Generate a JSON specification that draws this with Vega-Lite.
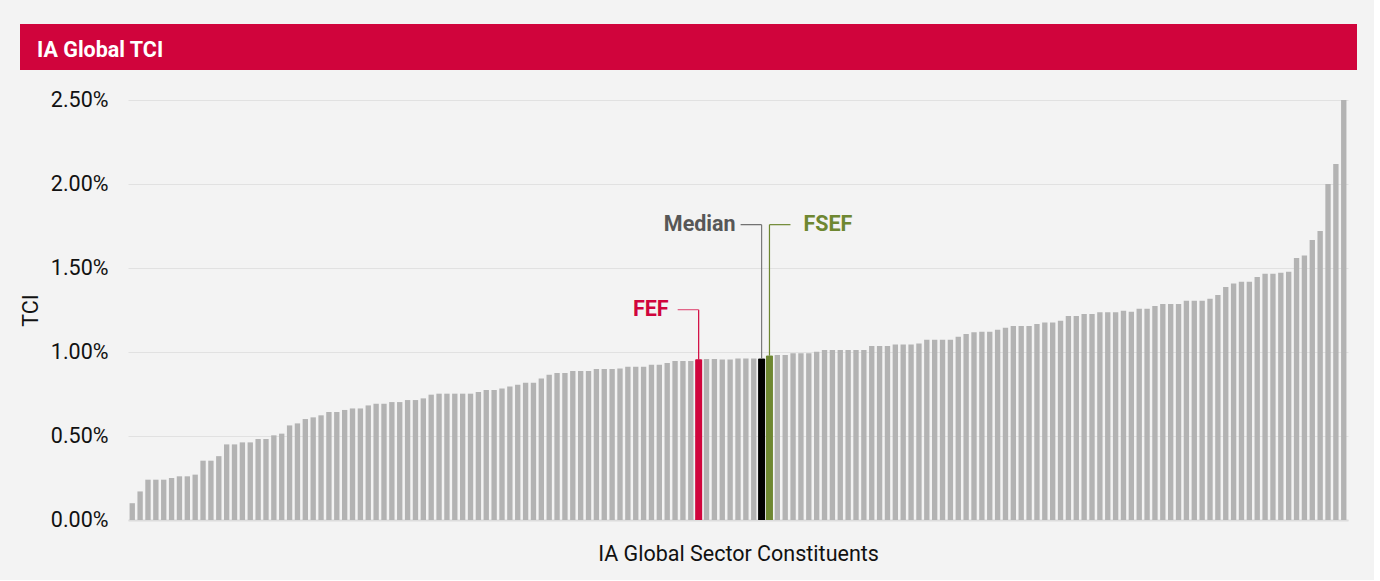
{
  "$schema": "https://vega.github.io/schema/vega-lite/v6.json",
  "background": "#f3f3f3",
  "padding": {"left": 20, "top": 24, "right": 17, "bottom": 15},
  "spacing": 19,
  "datasets": {
    "tci": [
      {"i":1,"tci":0.00100,"fund":"Other"},{"i":2,"tci":0.00170,"fund":"Other"},{"i":3,"tci":0.00240,"fund":"Other"},{"i":4,"tci":0.00240,"fund":"Other"},{"i":5,"tci":0.00240,"fund":"Other"},
      {"i":6,"tci":0.00250,"fund":"Other"},{"i":7,"tci":0.00260,"fund":"Other"},{"i":8,"tci":0.00260,"fund":"Other"},{"i":9,"tci":0.00270,"fund":"Other"},{"i":10,"tci":0.00353,"fund":"Other"},
      {"i":11,"tci":0.00353,"fund":"Other"},{"i":12,"tci":0.00380,"fund":"Other"},{"i":13,"tci":0.00450,"fund":"Other"},{"i":14,"tci":0.00450,"fund":"Other"},{"i":15,"tci":0.00462,"fund":"Other"},
      {"i":16,"tci":0.00462,"fund":"Other"},{"i":17,"tci":0.00482,"fund":"Other"},{"i":18,"tci":0.00482,"fund":"Other"},{"i":19,"tci":0.00504,"fund":"Other"},{"i":20,"tci":0.00514,"fund":"Other"},
      {"i":21,"tci":0.00563,"fund":"Other"},{"i":22,"tci":0.00575,"fund":"Other"},{"i":23,"tci":0.00601,"fund":"Other"},{"i":24,"tci":0.00611,"fund":"Other"},{"i":25,"tci":0.00623,"fund":"Other"},
      {"i":26,"tci":0.00643,"fund":"Other"},{"i":27,"tci":0.00643,"fund":"Other"},{"i":28,"tci":0.00655,"fund":"Other"},{"i":29,"tci":0.00664,"fund":"Other"},{"i":30,"tci":0.00664,"fund":"Other"},
      {"i":31,"tci":0.00682,"fund":"Other"},{"i":32,"tci":0.00692,"fund":"Other"},{"i":33,"tci":0.00692,"fund":"Other"},{"i":34,"tci":0.00702,"fund":"Other"},{"i":35,"tci":0.00702,"fund":"Other"},
      {"i":36,"tci":0.00714,"fund":"Other"},{"i":37,"tci":0.00714,"fund":"Other"},{"i":38,"tci":0.00724,"fund":"Other"},{"i":39,"tci":0.00746,"fund":"Other"},{"i":40,"tci":0.00752,"fund":"Other"},
      {"i":41,"tci":0.00752,"fund":"Other"},{"i":42,"tci":0.00752,"fund":"Other"},{"i":43,"tci":0.00752,"fund":"Other"},{"i":44,"tci":0.00752,"fund":"Other"},{"i":45,"tci":0.00762,"fund":"Other"},
      {"i":46,"tci":0.00774,"fund":"Other"},{"i":47,"tci":0.00774,"fund":"Other"},{"i":48,"tci":0.00783,"fund":"Other"},{"i":49,"tci":0.00795,"fund":"Other"},{"i":50,"tci":0.00805,"fund":"Other"},
      {"i":51,"tci":0.00817,"fund":"Other"},{"i":52,"tci":0.00817,"fund":"Other"},{"i":53,"tci":0.00843,"fund":"Other"},{"i":54,"tci":0.00865,"fund":"Other"},{"i":55,"tci":0.00875,"fund":"Other"},
      {"i":56,"tci":0.00875,"fund":"Other"},{"i":57,"tci":0.00887,"fund":"Other"},{"i":58,"tci":0.00887,"fund":"Other"},{"i":59,"tci":0.00887,"fund":"Other"},{"i":60,"tci":0.00899,"fund":"Other"},
      {"i":61,"tci":0.00899,"fund":"Other"},{"i":62,"tci":0.00899,"fund":"Other"},{"i":63,"tci":0.00902,"fund":"Other"},{"i":64,"tci":0.00912,"fund":"Other"},{"i":65,"tci":0.00912,"fund":"Other"},
      {"i":66,"tci":0.00912,"fund":"Other"},{"i":67,"tci":0.00924,"fund":"Other"},{"i":68,"tci":0.00924,"fund":"Other"},{"i":69,"tci":0.00934,"fund":"Other"},{"i":70,"tci":0.00946,"fund":"Other"},
      {"i":71,"tci":0.00946,"fund":"Other"},{"i":72,"tci":0.00946,"fund":"Other"},{"i":73,"tci":0.00956,"fund":"FEF"},{"i":74,"tci":0.00958,"fund":"Other"},{"i":75,"tci":0.00958,"fund":"Other"},
      {"i":76,"tci":0.00955,"fund":"Other"},{"i":77,"tci":0.00955,"fund":"Other"},{"i":78,"tci":0.00962,"fund":"Other"},{"i":79,"tci":0.00962,"fund":"Other"},{"i":80,"tci":0.00962,"fund":"Other"},
      {"i":81,"tci":0.00960,"fund":"Median"},{"i":82,"tci":0.00978,"fund":"FSEF"},{"i":83,"tci":0.00982,"fund":"Other"},{"i":84,"tci":0.00982,"fund":"Other"},{"i":85,"tci":0.00992,"fund":"Other"},
      {"i":86,"tci":0.00992,"fund":"Other"},{"i":87,"tci":0.00992,"fund":"Other"},{"i":88,"tci":0.01002,"fund":"Other"},{"i":89,"tci":0.01012,"fund":"Other"},{"i":90,"tci":0.01012,"fund":"Other"},
      {"i":91,"tci":0.01012,"fund":"Other"},{"i":92,"tci":0.01012,"fund":"Other"},{"i":93,"tci":0.01012,"fund":"Other"},{"i":94,"tci":0.01012,"fund":"Other"},{"i":95,"tci":0.01036,"fund":"Other"},
      {"i":96,"tci":0.01036,"fund":"Other"},{"i":97,"tci":0.01036,"fund":"Other"},{"i":98,"tci":0.01045,"fund":"Other"},{"i":99,"tci":0.01045,"fund":"Other"},{"i":100,"tci":0.01045,"fund":"Other"},
      {"i":101,"tci":0.01051,"fund":"Other"},{"i":102,"tci":0.01073,"fund":"Other"},{"i":103,"tci":0.01073,"fund":"Other"},{"i":104,"tci":0.01073,"fund":"Other"},{"i":105,"tci":0.01073,"fund":"Other"},
      {"i":106,"tci":0.01091,"fund":"Other"},{"i":107,"tci":0.01107,"fund":"Other"},{"i":108,"tci":0.01117,"fund":"Other"},{"i":109,"tci":0.01121,"fund":"Other"},{"i":110,"tci":0.01121,"fund":"Other"},
      {"i":111,"tci":0.01133,"fund":"Other"},{"i":112,"tci":0.01145,"fund":"Other"},{"i":113,"tci":0.01155,"fund":"Other"},{"i":114,"tci":0.01155,"fund":"Other"},{"i":115,"tci":0.01155,"fund":"Other"},
      {"i":116,"tci":0.01167,"fund":"Other"},{"i":117,"tci":0.01176,"fund":"Other"},{"i":118,"tci":0.01176,"fund":"Other"},{"i":119,"tci":0.01186,"fund":"Other"},{"i":120,"tci":0.01214,"fund":"Other"},
      {"i":121,"tci":0.01214,"fund":"Other"},{"i":122,"tci":0.01226,"fund":"Other"},{"i":123,"tci":0.01226,"fund":"Other"},{"i":124,"tci":0.01236,"fund":"Other"},{"i":125,"tci":0.01236,"fund":"Other"},
      {"i":126,"tci":0.01236,"fund":"Other"},{"i":127,"tci":0.01246,"fund":"Other"},{"i":128,"tci":0.01240,"fund":"Other"},{"i":129,"tci":0.01258,"fund":"Other"},{"i":130,"tci":0.01258,"fund":"Other"},
      {"i":131,"tci":0.01274,"fund":"Other"},{"i":132,"tci":0.01286,"fund":"Other"},{"i":133,"tci":0.01286,"fund":"Other"},{"i":134,"tci":0.01286,"fund":"Other"},{"i":135,"tci":0.01305,"fund":"Other"},
      {"i":136,"tci":0.01305,"fund":"Other"},{"i":137,"tci":0.01305,"fund":"Other"},{"i":138,"tci":0.01317,"fund":"Other"},{"i":139,"tci":0.01339,"fund":"Other"},{"i":140,"tci":0.01387,"fund":"Other"},
      {"i":141,"tci":0.01408,"fund":"Other"},{"i":142,"tci":0.01418,"fund":"Other"},{"i":143,"tci":0.01418,"fund":"Other"},{"i":144,"tci":0.01446,"fund":"Other"},{"i":145,"tci":0.01466,"fund":"Other"},
      {"i":146,"tci":0.01466,"fund":"Other"},{"i":147,"tci":0.01472,"fund":"Other"},{"i":148,"tci":0.01478,"fund":"Other"},{"i":149,"tci":0.01560,"fund":"Other"},{"i":150,"tci":0.01575,"fund":"Other"},
      {"i":151,"tci":0.01667,"fund":"Other"},{"i":152,"tci":0.01720,"fund":"Other"},{"i":153,"tci":0.02000,"fund":"Other"},{"i":154,"tci":0.02119,"fund":"Other"},{"i":155,"tci":0.02500,"fund":"Other"}
    ],
    "labels": [
      {"i":73,"tci":0.00956,"labelY":0.01252,"label":"FEF"},
      {"i":81,"tci":0.00960,"labelY":0.01758,"label":"Median"},
      {"i":82,"tci":0.00978,"labelY":0.01758,"label":"FSEF"}
    ],
    "banner": [{"heading":"IA Global TCI"}]
  },
  "vconcat": [
    {
      "width": 1337,
      "height": 46,
      "data": {"name": "banner"},
      "view": {"fill": "#d0043c", "stroke": null},
      "title": {"text": "IA Global TCI", "anchor": "start", "orient": "top", "frame": "group", "offset": 0, "dx": 17, "dy": 54, "baseline": "alphabetic", "color": "#ffffff", "fontSize": 21.5, "fontWeight": "bold", "font": "Roboto"},
      "mark": {"type": "rect", "color": "#d0043c"},
      "encoding": {}
    },
    {
      "width": 1328,
      "height": 420,
      "encoding": {
        "x": {"field": "i", "type": "ordinal", "scale": {"range": [108, 1328], "paddingInner": 0.32, "paddingOuter": 0.2},
          "axis": {"labels": false, "ticks": false, "domain": true, "domainColor": "#dcdcdc", "domainWidth": 2, "grid": false,
            "title": "IA Global Sector Constituents", "titleFontSize": 21.5, "titleFontWeight": "normal", "titleColor": "#111111", "titlePadding": 23, "titleFont": "Roboto"}}
      },
      "layer": [
        {
          "data": {"name": "tci"},
          "mark": {"type": "bar"},
          "encoding": {
            "y": {"field": "tci", "type": "quantitative", "title": "TCI", "scale": {"domain": [0, 0.025], "nice": false},
              "axis": {"values": [0, 0.005, 0.01, 0.015, 0.02, 0.025], "format": ".2%", "offset": -108, "labelFontSize": 21.5, "labelFont": "Roboto", "labelColor": "#111111", "labelPadding": 20,
                "titleFontSize": 21.5, "titleFont": "Roboto", "titleFontWeight": "normal", "titleColor": "#111111", "titlePadding": 8,
                "ticks": false, "domain": false, "gridColor": "#e1e1e1", "gridWidth": 1}},
            "color": {"field": "fund", "type": "nominal", "legend": null,
              "scale": {"domain": ["Other", "FEF", "Median", "FSEF"], "range": ["#b3b3b3", "#d0043c", "#000000", "#6e8731"]}}
          }
        },
        {
          "data": {"name": "tci"},
          "transform": [{"filter": "datum.fund !== 'Other'"}],
          "mark": {"type": "bar", "width": 7},
          "encoding": {
            "y": {"field": "tci", "type": "quantitative", "title": "TCI"},
            "color": {"field": "fund", "type": "nominal", "legend": null}
          }
        },
        {
          "data": {"name": "labels"},
          "mark": {"type": "rule", "strokeWidth": 1.2},
          "encoding": {
            "y": {"field": "tci", "type": "quantitative", "title": "TCI"},
            "y2": {"field": "labelY"},
            "color": {"condition": [{"test": "datum.label === 'FEF'", "value": "#d0043c"}, {"test": "datum.label === 'FSEF'", "value": "#6e8731"}], "value": "#7a7a7a"}
          }
        },
        {
          "data": {"name": "labels"},
          "transform": [{"filter": "datum.label !== 'FSEF'"}],
          "mark": {"type": "rule", "strokeWidth": 1.2, "x2Offset": -21},
          "encoding": {
            "x2": {"field": "i", "bandPosition": 0.5},
            "y": {"field": "labelY", "type": "quantitative", "title": "TCI"},
            "color": {"condition": [{"test": "datum.label === 'FEF'", "value": "#e05a80"}], "value": "#6a6a6a"}
          }
        },
        {
          "data": {"name": "labels"},
          "transform": [{"filter": "datum.label === 'FSEF'"}],
          "mark": {"type": "rule", "strokeWidth": 1.2, "x2Offset": 21},
          "encoding": {
            "x2": {"field": "i", "bandPosition": 0.5},
            "y": {"field": "labelY", "type": "quantitative", "title": "TCI"},
            "color": {"value": "#6e8731"}
          }
        },
        {
          "data": {"name": "labels"},
          "transform": [{"filter": "datum.label === 'FEF'"}],
          "mark": {"type": "text", "align": "right", "baseline": "middle", "dx": -30, "fontSize": 21.5, "fontWeight": "bold", "font": "Roboto", "color": "#d0043c"},
          "encoding": {
            "y": {"field": "labelY", "type": "quantitative", "title": "TCI"},
            "text": {"field": "label"}
          }
        },
        {
          "data": {"name": "labels"},
          "transform": [{"filter": "datum.label === 'Median'"}],
          "mark": {"type": "text", "align": "right", "baseline": "middle", "dx": -26, "fontSize": 21.5, "fontWeight": "bold", "font": "Roboto", "color": "#575757"},
          "encoding": {
            "y": {"field": "labelY", "type": "quantitative", "title": "TCI"},
            "text": {"field": "label"}
          }
        },
        {
          "data": {"name": "labels"},
          "transform": [{"filter": "datum.label === 'FSEF'"}],
          "mark": {"type": "text", "align": "left", "baseline": "middle", "dx": 34, "fontSize": 21.5, "fontWeight": "bold", "font": "Roboto", "color": "#6e8731"},
          "encoding": {
            "y": {"field": "labelY", "type": "quantitative", "title": "TCI"},
            "text": {"field": "label"}
          }
        }
      ]
    }
  ],
  "config": {
    "font": "Roboto",
    "view": {"stroke": null},
    "axis": {"labelFont": "Roboto", "titleFont": "Roboto"}
  }
}
